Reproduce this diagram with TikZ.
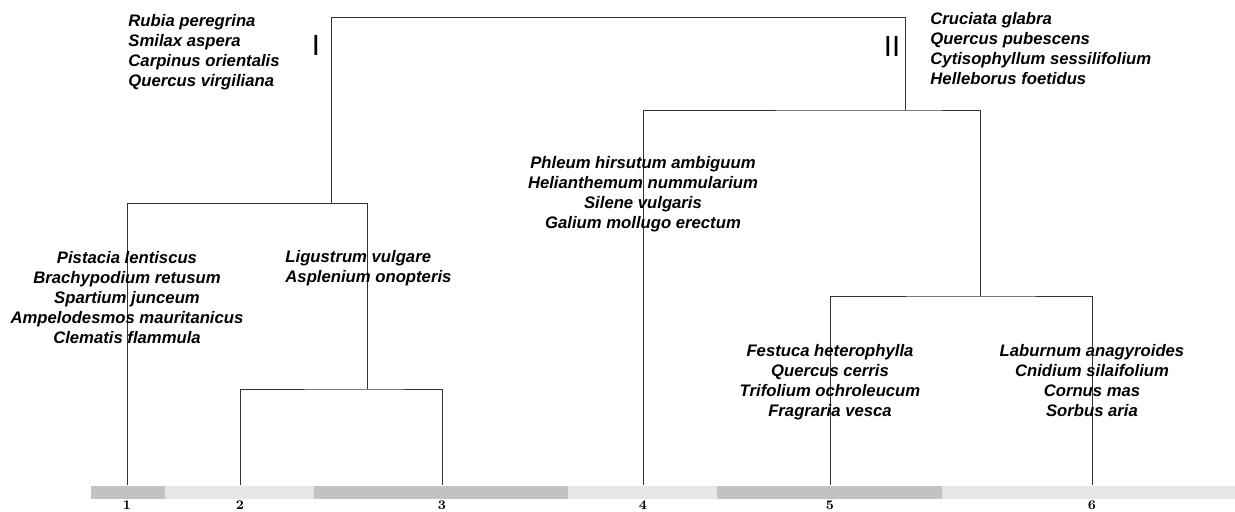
\documentclass[tikz,border=0pt]{standalone}
\usepackage{fontspec}
\newfontfamily\arialfont{Liberation Sans}
\definecolor{barD}{HTML}{C2C2C2}
\definecolor{barL}{HTML}{E6E6E6}
\tikzset{
  taxa/.style={inner sep=0pt, font=\arialfont\bfseries\itshape\fontsize{9.5}{11.4}\selectfont},
  roman/.style={inner sep=0pt, font=\arialfont\fontsize{16.6}{18}\selectfont},
  num/.style={inner sep=0pt, font=\bfseries\fontsize{7.5}{8}\selectfont},
  link/.style={draw=black!80, line width=0.5pt}
}

\begin{document}
\begin{tikzpicture}[x=0.02cm, y=-0.02cm, line width=0.5pt]
  \useasboundingbox (0,0) rectangle (1235,511);
  % 막대
  \foreach \a/\b/\c in {91/165/barD, 165/314/barL, 314/568/barD, 568/717/barL, 717/942/barD, 942/1235/barL}
    \fill[\c] (\a,486) rectangle (\b,499);
  % 잎과 번호
  \foreach \i/\x in {1/127, 2/240, 3/442, 4/643, 5/830, 6/1092} {
    \coordinate (l\i) at (\x,485);
    \node[num] (n\i) at (\x,505.5) {\i};
  }
  % 마디
  \coordinate (top) at (618,17);
  \coordinate (kI) at (331,203);
  \coordinate (kII) at (905,110);
  \coordinate (kA) at (367,389);
  \coordinate (kB) at (980,296);
  % 가지
  \draw[link] (kI) |- (kII |- top) -- (kII);
  \draw[link] (l1) |- (kA |- kI) -- (kA);
  \draw[link] (l2) |- (kA) -| (l3);
  \draw[link] (l4) |- (kII) -| (kB);
  \draw[link] (l5) |- (kB) -| (l6);
  % 군집 번호
  \node[roman] (rI) at (316,45) {I};
  \node[roman] (rII) at (892,46) {II};
  % 종 목록
  \node[taxa, anchor=north west, align=left] (gI) at (128,14) {Rubia peregrina\\Smilax aspera\\Carpinus orientalis\\Quercus virgiliana};
  \node[taxa, anchor=north west, align=left] (gII) at (930,12) {Cruciata glabra\\Quercus pubescens\\Cytisophyllum sessilifolium\\Helleborus foetidus};
  \node[taxa, anchor=north, align=center] (g1) at (127,250.5) {Pistacia lentiscus\\Brachypodium retusum\\Spartium junceum\\Ampelodesmos mauritanicus\\Clematis flammula};
  \node[taxa, anchor=north west, align=left] (g23) at (285,249.5) {Ligustrum vulgare\\Asplenium onopteris};
  \node[taxa, anchor=north, align=center] (g4) at (643,155.5) {Phleum hirsutum ambiguum\\Helianthemum nummularium\\Silene vulgaris\\Galium mollugo erectum};
  \node[taxa, anchor=north, align=center] (g5) at (830,343.5) {Festuca heterophylla\\Quercus cerris\\Trifolium ochroleucum\\Fragraria vesca};
  \node[taxa, anchor=north, align=center] (g6) at (1092,343.5) {Laburnum anagyroides\\Cnidium silaifolium\\Cornus mas\\Sorbus aria};
\end{tikzpicture}
\end{document}
